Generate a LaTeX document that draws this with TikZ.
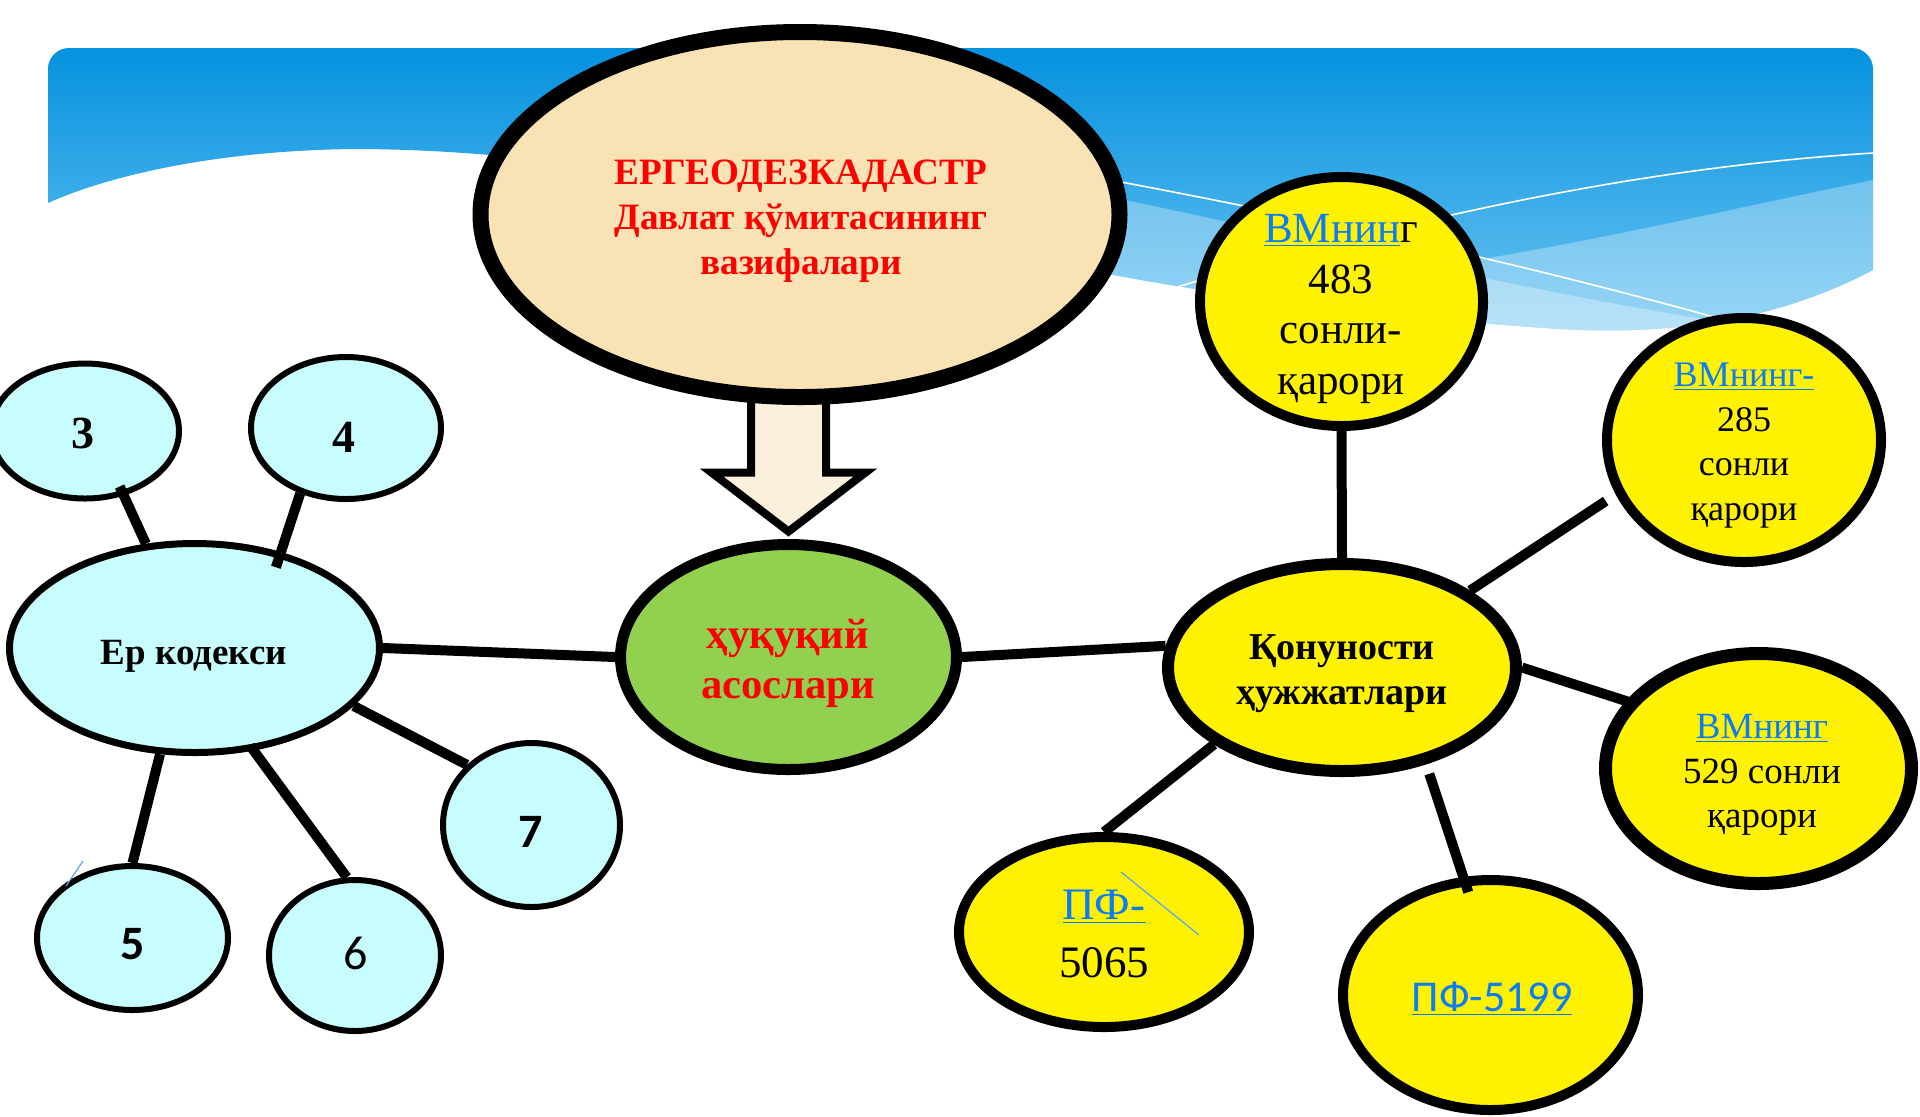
\documentclass[tikz,border=0pt]{standalone}
\usepackage{fontspec}
\setmainfont{Liberation Serif}
\newfontfamily\calibri{Carlito}
\usetikzlibrary{shapes.geometric,calc,backgrounds}
\definecolor{skytop}{HTML}{0592DF}
\definecolor{skybot}{HTML}{6EC5F2}
\definecolor{wheat}{HTML}{F9E2B3}
\definecolor{cream}{HTML}{FDF0DA}
\definecolor{leaf}{HTML}{92D050}
\definecolor{aqua}{HTML}{C8FDFD}
\definecolor{linkblue}{HTML}{0A7CF5}
\newcommand{\lnk}[1]{\textcolor{linkblue}{\underline{#1}}}
\newcommand{\fsz}[2]{\fontsize{#1}{#2}\selectfont}

\begin{document}
\begin{tikzpicture}[x=0.5pt,y=-0.5pt,
    oval/.style={ellipse, draw, inner sep=0pt},
    ernode/.style={oval, fill=aqua, line width=3pt},
    hujjat/.style={oval, fill=yellow, line width=5pt},
    wire/.style={line width=5pt},
    txt/.style={align=center, inner sep=0pt}]
    \useasboundingbox (0,0) rectangle (1920,1116);
    %
    \node[oval, fill=wheat, line width=8pt, minimum width=319.5pt, minimum height=182.5pt] (ergeo) at (800,214.5) {};
    \node[oval, fill=leaf, line width=5.5pt, minimum width=168pt, minimum height=112.5pt] (huquq) at (788.5,657) {};
    \node[ernode, line width=3.5pt, minimum width=185pt, minimum height=104.5pt] (erk) at (194.5,648) {};
    \node[ernode, minimum width=94pt, minimum height=67.5pt] (k3) at (85,431) {};
    \node[ernode, minimum width=95pt, minimum height=71pt] (k4) at (346,428) {};
    \node[ernode, minimum width=95.5pt, minimum height=72pt] (k5) at (132.5,938) {};
    \node[ernode, minimum width=86pt, minimum height=75.5pt] (k6) at (355,955.5) {};
    \node[ernode, minimum width=88.5pt, minimum height=82pt] (k7) at (531.5,825) {};
    \node[hujjat, line width=6pt, minimum width=174pt, minimum height=103.5pt] (qon) at (1342,667.5) {};
    \node[hujjat, minimum width=141.5pt, minimum height=124.5pt] (vm483) at (1341.5,301.5) {};
    \node[hujjat, minimum width=137pt, minimum height=122pt] (vm285) at (1744,440) {};
    \node[hujjat, line width=6.5pt, minimum width=153pt, minimum height=115pt] (vm529) at (1758.5,768.5) {};
    \node[hujjat, minimum width=145pt, minimum height=95pt] (pf5065) at (1104,932) {};
    \node[hujjat, minimum width=147.5pt, minimum height=115pt] (pf5199) at (1490.5,995) {};
    %
    \node[txt, font=\fsz{18.6pt}{22.5pt}\bfseries, text=red] (ergeo_t) at (801,221) {ЕРГЕОДЕЗКАДАСТР\\Давлат қўмитасининг\\вазифалари};
    \node[txt, font=\fsz{21.3pt}{25pt}\bfseries, text=red] (huquq_t) at (788,663) {ҳуқуқий\\асослари};
    \node[txt, font=\fsz{18.5pt}{22pt}\bfseries] (erk_t) at (194,656) {Ер кодекси};
    \node[txt, font=\fsz{23pt}{28pt}\bfseries] (k3_t) at (83,433) {3};
    \node[txt, font=\fsz{23pt}{28pt}\bfseries] (k4_t) at (344,437) {4};
    \node[txt, font=\calibri\fsz{24pt}{28pt}\bfseries] (k5_t) at (133,944) {5};
    \node[txt, font=\calibri\fsz{24pt}{28pt}] (k6_t) at (356,953) {6};
    \node[txt, font=\calibri\fsz{24pt}{28pt}\bfseries] (k7_t) at (531,832) {7};
    \node[txt, font=\fsz{19pt}{22.5pt}\bfseries] (qon_t) at (1342,674) {Қонуности\\ҳужжатлари};
    \node[txt, font=\fsz{21.5pt}{25.25pt}] (vm483_t) at (1341,309) {\lnk{ВМнин}г\\483\\сонли-\\қарори};
    \node[txt, font=\fsz{18pt}{22.25pt}] (vm285_t) at (1744,445.5) {\lnk{ВМнинг-}\\285\\сонли\\қарори};
    \node[txt, font=\fsz{18.5pt}{22.25pt}] (vm529_t) at (1762,775) {\lnk{ВМнинг}\\529 сонли\\қарори};
    \node[txt, font=\fsz{22.5pt}{29pt}] (pf5065_t) at (1104,934) {\lnk{ПФ-}\\5065};
    \node[txt, font=\calibri\fsz{22pt}{26pt}] (pf5199_t) at (1492,999) {\lnk{ПФ-5199}};
    %
    \draw[wire, shorten <=-5pt] (k3.-59) -- (erk.115);
    \draw[wire, shorten >=-8pt] (k4.235) -- (erk.48);
    \draw[wire] (erk.east) -- (huquq.west);
    \draw[wire] (erk.-20) -- (k7.137);
    \draw[wire, shorten <=-3pt] (erk.-60) -- (k6.96);
    \draw[wire] (erk.-108) -- (k5.north);
    \draw[wire] (huquq.east) -- (qon.173);
    \draw[wire] (vm483.south) -- (qon.north);
    \draw[wire, shorten >=6pt] (qon.31) -- (vm285.203);
    \draw[wire, shorten >=-6pt] (qon.east) -- (vm529.153);
    \draw[wire] (qon.211) -- (pf5065.north);
    \draw[wire, shorten <=5pt, shorten >=-8pt] (qon.-49) -- (pf5199.103);
    %
    \draw[linkblue!70, line width=0.6pt] (83,861) -- (66,886);
    \draw[linkblue!70, line width=0.6pt] (1121,872) -- (1199,935);
    %
    \begin{scope}[on background layer]
      \fill[white] (0,0) rectangle (1920,1116);
      \begin{scope}
        \clip (48,203) -- (48,69) arc[start angle=180, end angle=270, radius=21] -- (1852,48)
          arc[start angle=270, end angle=360, radius=21] -- (1873,270)
          .. controls (1760,330) and (1640,335) .. (1545,328)
          .. controls (1400,318) and (1250,300) .. (1124,277)
          .. controls (900,235) and (650,150) .. (357,149)
          .. controls (220,150) and (110,175) .. (48,203) -- cycle;
        \shade[top color=skytop, bottom color=skybot] (48,48) rectangle (1873,340);
        \fill[white, opacity=.3] (1873,180) .. controls (1650,225) and (1450,280) .. (1150,295)
          -- (1150,360) -- (1900,360) -- (1900,180) -- cycle;
        \fill[white, opacity=.3] (1100,195) .. controls (1300,235) and (1550,300) .. (1780,330)
          -- (1780,360) -- (1100,360) -- cycle;
        \draw[white, line width=.8pt] (1100,178) .. controls (1350,225) and (1550,270) .. (1760,330);
        \draw[white, line width=.8pt] (1150,295) .. controls (1350,235) and (1600,170) .. (1873,153);
      \end{scope}
      \draw[line width=4pt, fill=cream, shift={(huquq.north)}] (-37.5,-160) -- (-37.5,-66.5) -- (-77,-66.5)
        -- (0,-7.5) -- (77,-66.5) -- (37.5,-66.5) -- (37.5,-160) -- cycle;
    \end{scope}
\end{tikzpicture}
\end{document}
